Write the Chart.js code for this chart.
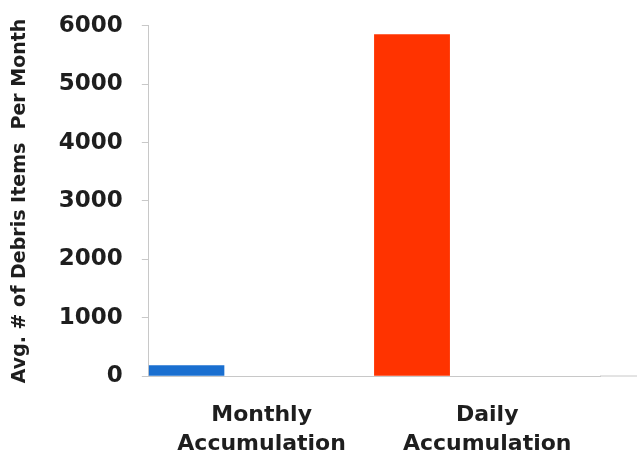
<!DOCTYPE html>
<html>
<head>
<meta charset="utf-8">
<script src="https://cdn.jsdelivr.net/npm/chart.js@4/dist/chart.umd.min.js"></script>
<style>
  html, body { margin: 0; padding: 0; background: #fff; }
  canvas { display: block; }
</style>
</head>
<body>
<canvas id="chart" width="637" height="459"></canvas>
<script>
const categories = [['Monthly', 'Accumulation'], ['Daily', 'Accumulation']];
const avgItems = [180, 5850];
const barColors = ['#1a6fd0', '#ff3300'];
const yTicks = [0, 1000, 2000, 3000, 4000, 5000, 6000];

// extend the baseline to the right edge like the original
const baselineExtend = {
  id: 'baselineExtend',
  afterDraw(chart) {
    const ctx = chart.ctx;
    const y = chart.scales.y.getPixelForValue(0);
    ctx.save();
    ctx.strokeStyle = '#c8c8c8';
    ctx.lineWidth = 1;
    ctx.beginPath();
    ctx.moveTo(chart.chartArea.right, y);
    ctx.lineTo(chart.width, y);
    ctx.stroke();
    ctx.restore();
  }
};

new Chart(document.getElementById('chart').getContext('2d'), {
  type: 'bar',
  data: {
    labels: categories,
    datasets: [
      { label: 'Avg. items', data: avgItems, backgroundColor: barColors },
      { label: '', data: [] },
      { label: '', data: [] }
    ]
  },
  options: {
    responsive: false,
    animation: false,
    layout: { padding: { top: 0, right: 37, left: 4, bottom: 0 } },
    datasets: { bar: { categoryPercentage: 1, barPercentage: 1 } },
    plugins: { legend: { display: false }, tooltip: { enabled: false } },
    scales: {
      x: {
        afterFit: s => { s.height = 83; },
        grid: { display: false, drawTicks: false },
        border: { display: true, color: '#c8c8c8' },
        ticks: {
          color: '#1e1e1e',
          padding: 25,
          maxRotation: 0,
          font: { family: 'DejaVu Sans', weight: 'bold', size: 22, lineHeight: 1.3 }
        }
      },
      y: {
        min: 0,
        max: 6000,
        afterBuildTicks: s => { s.ticks = yTicks.map(v => ({ value: v })); },
        grid: { drawOnChartArea: false, tickLength: 7, color: '#c8c8c8' },
        border: { display: true, color: '#c8c8c8' },
        ticks: {
          color: '#1e1e1e',
          padding: 19,
          callback: v => String(v),
          font: { family: 'DejaVu Sans', weight: 'bold', size: 23, lineHeight: 0.6 }
        },
        title: {
          display: true,
          text: 'Avg. # of Debris Items  Per Month',
          color: '#1e1e1e',
          padding: { top: 5, bottom: 8 },
          font: { family: 'DejaVu Sans', weight: 'bold', size: 19 }
        }
      }
    }
  },
  plugins: [baselineExtend]
});
</script>
</body>
</html>
